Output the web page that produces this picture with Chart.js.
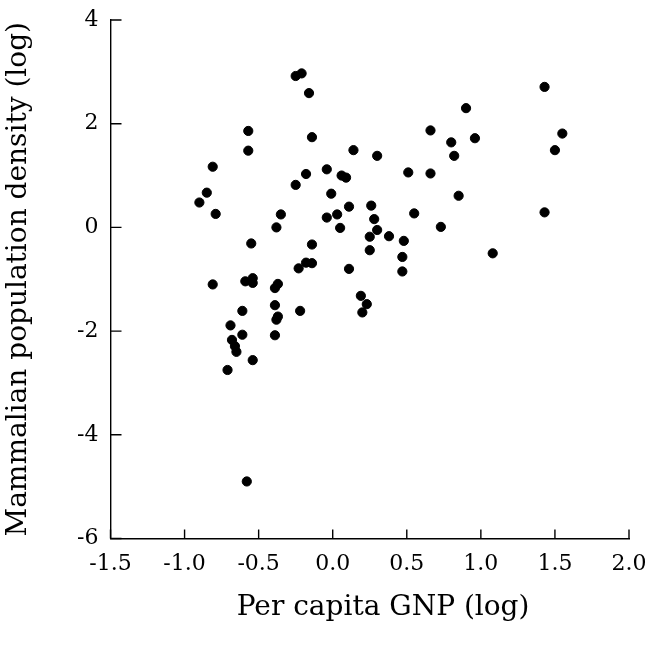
<!DOCTYPE html>
<html>
<head>
<meta charset="utf-8">
<script src="https://cdn.jsdelivr.net/npm/chart.js@4.4.1/dist/chart.umd.min.js"></script>
<style>
  html, body { margin: 0; padding: 0; background: #fff; }
  #wrap { width: 657px; height: 647px; }
</style>
</head>
<body>
<div id="wrap"><canvas id="scatter" width="657" height="647"></canvas></div>
<script>
// per capita GNP (log) for each country
const gnpLog = [
  -0.90, -0.85, -0.81, -0.79, -0.81, -0.57, -0.57, -0.55, -0.59, -0.54,
  -0.54, -0.61, -0.69, -0.61, -0.68, -0.66, -0.65, -0.54, -0.71, -0.58,
  -0.38, -0.35, -0.37, -0.39, -0.39, -0.37, -0.38, -0.39, -0.25, -0.21,
  -0.16, -0.14, -0.18, -0.25, -0.14, -0.18, -0.14, -0.23, -0.22, -0.04,
   0.06,  0.09, -0.01, -0.04,  0.03,  0.05,  0.11,  0.14,  0.30,  0.26,
   0.28,  0.30,  0.25,  0.38,  0.25,  0.11,  0.19,  0.23,  0.20,  0.48,
   0.47,  0.47,  0.51,  0.55,  0.66,  0.66,  0.73,  0.80,  0.82,  0.85,
   0.90,  0.96,  1.08,  1.43,  1.43,  1.50,  1.55
];
// mammalian population density (log)
const densityLog = [
   0.48,  0.67,  1.17,  0.26, -1.10,  1.86,  1.48, -0.31, -1.04, -0.98,
  -1.07, -1.61, -1.89, -2.07, -2.17, -2.29, -2.40, -2.56, -2.75, -4.90,
   0.00,  0.25, -1.09, -1.17, -1.50, -1.72, -1.78, -2.08,  2.92,  2.97,
   2.59,  1.74,  1.03,  0.82, -0.33, -0.68, -0.69, -0.79, -1.61,  1.12,
   1.00,  0.96,  0.65,  0.19,  0.25, -0.01,  0.40,  1.49,  1.38,  0.42,
   0.16, -0.05, -0.18, -0.17, -0.44, -0.80, -1.32, -1.48, -1.64, -0.26,
  -0.57, -0.85,  1.06,  0.27,  1.87,  1.04,  0.01,  1.64,  1.38,  0.61,
   2.30,  1.72, -0.50,  2.71,  0.29,  1.49,  1.81
];
const xTicks = [-1.5, -1.0, -0.5, 0.0, 0.5, 1.0, 1.5, 2.0];
const yTicks = [-6, -4, -2, 0, 2, 4];

const points = gnpLog.map((x, i) => ({ x: x, y: densityLog[i] }));

const serif = "'DejaVu Serif', 'Liberation Serif', serif";

// short tick marks pointing into the plot
const innerTicks = {
    id: 'innerTicks',
    afterDraw(chart) {
        const c = chart.ctx;
        const xs = chart.scales.x, ys = chart.scales.y;
        const area = chart.chartArea;
        c.save();
        c.strokeStyle = '#000';
        c.lineWidth = 1.4;
        c.beginPath();
        xs.ticks.forEach((t, i) => {
            const px = xs.getPixelForTick(i);
            c.moveTo(px, area.bottom);
            c.lineTo(px, area.bottom - 9);
        });
        ys.ticks.forEach((t, i) => {
            const py = ys.getPixelForTick(i);
            c.moveTo(area.left, py);
            c.lineTo(area.left + 11, py);
        });
        c.stroke();
        c.restore();
    }
};

// fixed box sizes so the plot area lands where the original has it
function fixX(scale) {
    scale.height = 108.5;
    scale.paddingLeft = 0;
    scale.paddingRight = 0;
}
function fixY(scale) {
    scale.width = 110.5;
    scale.paddingTop = 0;
    scale.paddingBottom = 0;
}

const ctx = document.getElementById('scatter').getContext('2d');
const scatterChart = new Chart(ctx, {
    type: 'scatter',
    data: {
        datasets: [{
            label: 'Countries',
            data: points,
            backgroundColor: '#000',
            borderColor: '#000',
            pointRadius: 4.6,
            pointHoverRadius: 4.6
        }]
    },
    options: {
        responsive: false,
        animation: false,
        layout: {
            padding: { top: 20, right: 28, bottom: 0, left: 0 }
        },
        scales: {
            x: {
                type: 'linear',
                min: -1.5,
                max: 2.0,
                afterBuildTicks: (scale) => {
                    scale.ticks = xTicks.map(v => ({ value: v }));
                },
                afterFit: fixX,
                grid: { drawOnChartArea: false, drawTicks: false },
                border: { display: true, color: '#000', width: 1.4 },
                ticks: {
                    padding: 13,
                    color: '#000',
                    font: { family: serif, size: 22 },
                    callback: (v) => Number(v).toFixed(1)
                },
                title: {
                    display: true,
                    // leading spaces nudge the title right, as in the original
                    text: '   Per capita GNP (log)',
                    color: '#000',
                    font: { family: serif, size: 28 },
                    padding: { top: 0, bottom: 22 }
                }
            },
            y: {
                type: 'linear',
                min: -6,
                max: 4,
                afterBuildTicks: (scale) => {
                    scale.ticks = yTicks.map(v => ({ value: v }));
                },
                afterFit: fixY,
                grid: { drawOnChartArea: false, drawTicks: false },
                border: { display: true, color: '#000', width: 1.4 },
                ticks: {
                    padding: 12,
                    color: '#000',
                    font: { family: serif, size: 22 }
                },
                title: {
                    display: true,
                    text: 'Mammalian population density (log)',
                    color: '#000',
                    font: { family: serif, size: 28 },
                    padding: { top: 2, bottom: 0 }
                }
            }
        },
        plugins: {
            legend: { display: false },
            tooltip: { enabled: false }
        }
    },
    plugins: [innerTicks]
});
</script>
</body>
</html>
